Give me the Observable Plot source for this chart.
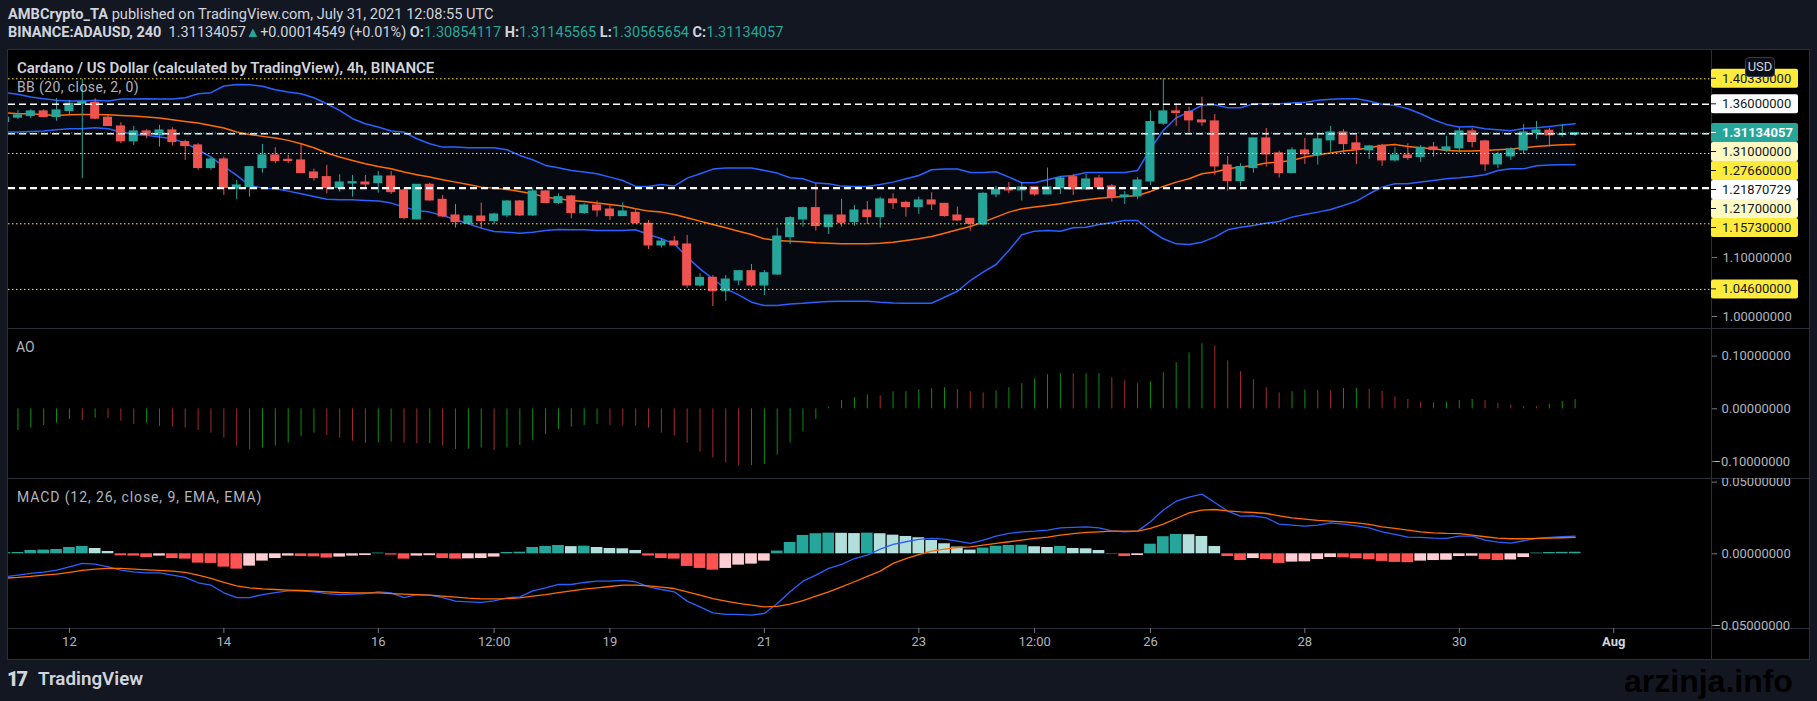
<!DOCTYPE html>
<html>
<head>
<meta charset="utf-8">
<script src="https://cdn.jsdelivr.net/npm/d3@7"></script>
<script src="https://cdn.jsdelivr.net/npm/@observablehq/plot@0.6"></script>
<style>
html,body{margin:0;padding:0;background:#131722;}
body{width:1817px;height:701px;overflow:hidden;position:relative;font-family:Roboto,"Noto Sans",sans-serif;color:#d1d4dc;}
.abs{position:absolute;white-space:nowrap;}
#frame{left:7px;top:49px;width:1803px;height:611px;background:#000;border:1px solid #2a2e39;box-sizing:border-box;}
.hsep{position:absolute;left:8px;width:1801px;height:1px;background:#2a2e39;}
.vsep{position:absolute;left:1711px;top:49px;width:1px;height:610px;background:#2a2e39;}
.panel{position:absolute;left:0;}
.teal{color:#26a69a;}
</style>
</head>
<body>
<div class="abs" id="frame"></div>
<div class="hsep" style="top:328px"></div>
<div class="hsep" style="top:478px"></div>
<div class="hsep" style="top:628px"></div>
<div class="vsep"></div>
<div class="panel" id="p1" style="top:50px"></div>
<div class="panel" id="p2" style="top:328px"></div>
<div class="panel" id="p3" style="top:478px"></div>

<div class="abs" style="left:8px;top:6px;font-size:14.6px;line-height:16px;"><b>AMBCrypto_TA</b> published on TradingView.com, July 31, 2021 12:08:55 UTC</div>
<div class="abs" style="left:8px;top:25px;font-size:14.5px;line-height:16px;"><b>BINANCE:ADAUSD, 240</b>&nbsp; 1.31134057<span class="teal">▲</span>+0.00014549 (+0.01%) <b>O:</b><span class="teal">1.30854117</span> <b>H:</b><span class="teal">1.31145565</span> <b>L:</b><span class="teal">1.30565654</span> <b>C:</b><span class="teal">1.31134057</span></div>
<div class="abs" style="left:17px;top:60px;font-size:15px;line-height:16px;font-weight:600;">Cardano / US Dollar (calculated by TradingView), 4h, BINANCE</div>
<div class="abs" style="left:17px;top:79px;font-size:14px;line-height:16px;letter-spacing:0.4px;color:#b2b5be;">BB (20, close, 2, 0)</div>
<div class="abs" style="left:16px;top:339px;font-size:14px;line-height:16px;color:#b2b5be;">AO</div>
<div class="abs" style="left:17px;top:489px;font-size:14px;line-height:16px;letter-spacing:0.9px;color:#b2b5be;">MACD (12, 26, close, 9, EMA, EMA)</div>
<div class="abs" style="left:1745px;top:57px;width:30px;height:20px;box-sizing:border-box;border:1px solid #363a45;border-radius:4px;background:#0c0e15;font-size:13px;line-height:18px;text-align:center;color:#d1d4dc;">USD</div>
<div class="abs" style="left:7px;top:668px;font-size:20px;line-height:22px;font-weight:900;letter-spacing:-2px;color:#d1d4dc;">17</div>
<div class="abs" style="left:38px;top:668px;font-size:18.8px;line-height:22px;font-weight:600;color:#d1d4dc;">TradingView</div>
<div class="abs" style="left:1624px;top:664px;font-size:32px;line-height:34px;font-weight:bold;color:#000;font-family:'Liberation Sans',Roboto,sans-serif;">arzinja.info</div>

<script>
// ---------- DATA (4h bars, first bar Jul 11 2021 04:00 UTC) ----------
const firstBarUTC = Date.UTC(2021, 6, 11, 4);
const barHours = 4;

const open = [1.3299,1.3373,1.3401,1.3480,1.3384,1.3486,1.3610,1.3627,1.3373,1.3225,1.2971,
1.3140,1.3073,1.3157,1.2959,1.2903,1.2518,1.2665,1.2167,1.2195,1.2518,
1.2733,1.2659,1.2648,1.2444,1.2365,1.2178,1.2257,1.2274,1.2263,1.2376,
1.2139,1.1646,1.2235,1.1980,1.1714,1.1573,1.1697,1.1618,1.1714,1.1952,
1.1714,1.2122,1.1924,1.2037,1.1754,1.1884,1.1816,1.1703,1.1759,1.1573,
1.1205,1.1273,1.1222,1.0526,1.0656,1.0429,1.0610,1.0769,1.0526,1.0712,
1.1346,1.1646,1.1839,1.1516,1.1714,1.1601,1.1799,1.1686,1.1986,1.1929,
1.1856,1.1969,1.1912,1.1714,1.1657,1.1561,1.2071,1.2178,1.2139,1.2190,
1.2071,1.2173,1.2365,1.2156,1.2342,1.2207,1.2025,1.2037,1.2291,1.3271,
1.3480,1.3469,1.3327,1.3310,1.2563,1.2297,1.2518,1.3022,1.2767,1.2433,
1.2818,1.2733,1.2988,1.3123,1.2937,1.2818,1.2897,1.2648,1.2733,1.2705,
1.2869,1.2818,1.2852,1.3140,1.2971,1.2580,1.2716,1.2818,1.3112,1.3152,
1.3078,1.30854117];

const high = [1.3395,1.3497,1.3508,1.3508,1.3695,1.3667,1.4023,1.3695,1.3412,1.3288,1.3225,
1.3169,1.3242,1.3203,1.2988,1.2931,1.2705,1.2705,1.2308,1.2546,1.2920,
1.2863,1.2733,1.2920,1.2501,1.2563,1.2405,1.2393,1.2393,1.2461,1.2461,
1.2167,1.2235,1.2263,1.2054,1.1901,1.1714,1.1924,1.1754,1.1969,1.1969,
1.2184,1.2139,1.2082,1.2054,1.1913,1.1958,1.1884,1.1929,1.1816,1.1629,
1.1318,1.1357,1.1375,1.0724,1.0695,1.0695,1.0780,1.0882,1.0780,1.1499,
1.1697,1.1856,1.2252,1.1714,1.1986,1.1884,1.1952,1.2025,1.2082,1.1958,
1.2025,1.2099,1.1912,1.1856,1.1657,1.2099,1.2207,1.2274,1.2274,1.2190,
1.2518,1.2376,1.2410,1.2410,1.2393,1.2240,1.2122,1.2354,1.3486,1.4035,
1.3610,1.3554,1.3723,1.3429,1.2716,1.2591,1.3022,1.3191,1.2806,1.2863,
1.3022,1.3112,1.3225,1.3169,1.3073,1.2903,1.2920,1.2863,1.2931,1.2903,
1.2954,1.3056,1.3197,1.3186,1.2988,1.2790,1.2863,1.3259,1.3310,1.3191,
1.3259,1.31145565];

const low = [1.3271,1.3339,1.3356,1.3373,1.3316,1.3412,1.2337,1.3339,1.3225,1.2931,1.2903,
1.3016,1.2874,1.2891,1.2648,1.2478,1.2478,1.2054,1.1980,1.2025,1.2433,
1.2591,1.2591,1.2422,1.2297,1.2082,1.2110,1.2025,1.2167,1.2093,1.2071,
1.1641,1.1641,1.1958,1.1675,1.1499,1.1573,1.1488,1.1556,1.1675,1.1697,
1.1697,1.1913,1.1901,1.1658,1.1731,1.1686,1.1629,1.1697,1.1573,1.1137,
1.1159,1.1205,1.0480,1.0497,1.0169,1.0259,1.0525,1.0497,1.0356,1.0695,
1.1222,1.1516,1.1448,1.1391,1.1516,1.1533,1.1561,1.1499,1.1816,1.1686,
1.1731,1.1799,1.1686,1.1618,1.1448,1.1533,1.2014,1.2082,1.1958,1.2042,
1.2071,1.2071,1.2054,1.2139,1.2156,1.1941,1.1901,1.1980,1.2223,1.3242,
1.3225,1.3112,1.3225,1.2393,1.2127,1.2207,1.2433,1.2535,1.2348,1.2422,
1.2580,1.2569,1.2784,1.2750,1.2580,1.2665,1.2546,1.2620,1.2648,1.2614,
1.2705,1.2784,1.2773,1.2863,1.2461,1.2507,1.2648,1.2750,1.3005,1.2874,
1.3044,1.30565654];

const close = [1.3372,1.3412,1.3480,1.3384,1.3497,1.3610,1.3638,1.3356,1.3231,1.2971,1.3140,
1.3084,1.3157,1.2959,1.2891,1.2518,1.2665,1.2178,1.2224,1.2535,1.2733,
1.2637,1.2637,1.2433,1.2348,1.2178,1.2274,1.2280,1.2240,1.2376,1.2110,
1.1669,1.2235,1.1969,1.1697,1.1601,1.1697,1.1618,1.1731,1.1952,1.1714,
1.2122,1.1924,1.2025,1.1754,1.1884,1.1799,1.1703,1.1782,1.1584,1.1205,
1.1273,1.1205,1.0526,1.0656,1.0429,1.0627,1.0769,1.0526,1.0735,1.1357,
1.1669,1.1839,1.1533,1.1714,1.1590,1.1799,1.1686,1.1986,1.1924,1.1856,
1.1969,1.1901,1.1703,1.1629,1.1573,1.2082,1.2150,1.2139,1.2190,1.2071,
1.2190,1.2342,1.2156,1.2325,1.2190,1.2025,1.2054,1.2308,1.3299,1.3480,
1.3452,1.3327,1.3293,1.2546,1.2297,1.2535,1.3022,1.2750,1.2433,1.2818,
1.2750,1.3005,1.3123,1.2925,1.2829,1.2886,1.2648,1.2733,1.2688,1.2863,
1.2824,1.2869,1.3140,1.2959,1.2580,1.2750,1.2835,1.3123,1.3157,1.3073,
1.3090,1.31134057];

const bbUpper = [1.3797,1.3769,1.3723,1.3695,1.3667,1.3655,1.3655,1.3667,1.3655,1.3689,1.3689,
1.3695,1.3689,1.3689,1.3712,1.3780,1.3797,1.3910,1.3938,1.3933,1.3905,
1.3848,1.3808,1.3780,1.3712,1.3610,1.3497,1.3356,1.3271,1.3214,1.3146,
1.3129,1.3016,1.2931,1.2874,1.2874,1.2863,1.2863,1.2863,1.2829,1.2733,
1.2659,1.2563,1.2523,1.2478,1.2450,1.2422,1.2365,1.2308,1.2207,1.2207,
1.2240,1.2212,1.2348,1.2422,1.2501,1.2518,1.2518,1.2518,1.2478,1.2433,
1.2354,1.2337,1.2263,1.2252,1.2212,1.2207,1.2207,1.2240,1.2280,1.2337,
1.2393,1.2490,1.2501,1.2501,1.2444,1.2444,1.2456,1.2365,1.2269,1.2269,
1.2320,1.2376,1.2393,1.2444,1.2444,1.2444,1.2444,1.2478,1.2846,1.3157,
1.3372,1.3469,1.3582,1.3593,1.3542,1.3542,1.3610,1.3610,1.3610,1.3622,
1.3633,1.3667,1.3684,1.3695,1.3695,1.3655,1.3599,1.3582,1.3525,1.3440,
1.3339,1.3259,1.3214,1.3225,1.3186,1.3169,1.3152,1.3191,1.3203,1.3225,
1.3248,1.3271];

const bbBasis = [1.3457,1.3440,1.3440,1.3423,1.3412,1.3423,1.3429,1.3429,1.3423,1.3412,1.3401,
1.3384,1.3367,1.3339,1.3310,1.3282,1.3242,1.3197,1.3129,1.3089,1.3056,
1.3027,1.2988,1.2931,1.2863,1.2773,1.2705,1.2648,1.2591,1.2546,1.2507,
1.2450,1.2405,1.2365,1.2320,1.2280,1.2240,1.2195,1.2178,1.2156,1.2122,
1.2082,1.2025,1.1997,1.1969,1.1952,1.1924,1.1901,1.1873,1.1827,1.1788,
1.1771,1.1731,1.1674,1.1618,1.1561,1.1505,1.1448,1.1391,1.1318,1.1290,
1.1278,1.1267,1.1250,1.1244,1.1233,1.1233,1.1233,1.1244,1.1261,1.1290,
1.1318,1.1358,1.1414,1.1471,1.1527,1.1601,1.1686,1.1771,1.1827,1.1856,
1.1884,1.1912,1.1952,1.1980,1.2008,1.2025,1.2037,1.2054,1.2122,1.2207,
1.2280,1.2337,1.2422,1.2450,1.2507,1.2535,1.2563,1.2603,1.2620,1.2648,
1.2705,1.2744,1.2773,1.2806,1.2829,1.2863,1.2903,1.2920,1.2886,1.2863,
1.2846,1.2818,1.2806,1.2806,1.2818,1.2829,1.2840,1.2863,1.2886,1.2903,
1.2914,1.2920];

const bbLower = [1.3129,1.3129,1.3140,1.3146,1.3169,1.3186,1.3186,1.3203,1.3186,1.3129,1.3089,
1.3073,1.3044,1.3016,1.2942,1.2829,1.2705,1.2546,1.2393,1.2224,1.2178,
1.2167,1.2127,1.2082,1.2037,1.1991,1.1980,1.1980,1.1969,1.1958,1.1924,
1.1856,1.1799,1.1771,1.1714,1.1641,1.1573,1.1499,1.1442,1.1431,1.1414,
1.1431,1.1459,1.1476,1.1471,1.1471,1.1459,1.1459,1.1459,1.1471,1.1391,
1.1318,1.1233,1.1007,1.0808,1.0639,1.0469,1.0367,1.0243,1.0186,1.0186,
1.0214,1.0226,1.0243,1.0254,1.0260,1.0260,1.0260,1.0243,1.0231,1.0226,
1.0226,1.0226,1.0327,1.0429,1.0610,1.0752,1.0882,1.1120,1.1386,1.1448,
1.1459,1.1448,1.1505,1.1516,1.1561,1.1590,1.1629,1.1629,1.1459,1.1318,
1.1233,1.1222,1.1261,1.1346,1.1471,1.1516,1.1544,1.1584,1.1612,1.1686,
1.1731,1.1771,1.1816,1.1884,1.1958,1.2082,1.2195,1.2252,1.2252,1.2280,
1.2308,1.2337,1.2354,1.2376,1.2405,1.2478,1.2507,1.2507,1.2557,1.2569,
1.2574,1.2574];

const aoValues = [-0.0450,-0.0411,-0.0367,-0.0316,-0.0272,-0.0202,-0.0221,-0.0177,-0.0185,-0.0234,-0.0297,
-0.0272,-0.0335,-0.0348,-0.0367,-0.0411,-0.0461,-0.0556,-0.0708,-0.0771,-0.0746,
-0.0708,-0.0651,-0.0525,-0.0461,-0.0506,-0.0556,-0.0613,-0.0660,-0.0648,-0.0632,
-0.0651,-0.0664,-0.0658,-0.0708,-0.0771,-0.0765,-0.0746,-0.0790,-0.0746,-0.0695,
-0.0600,-0.0487,-0.0392,-0.0348,-0.0316,-0.0297,-0.0316,-0.0320,-0.0325,-0.0367,
-0.0461,-0.0518,-0.0651,-0.0822,-0.0935,-0.1030,-0.1087,-0.1080,-0.1055,-0.0878,
-0.0651,-0.0442,-0.0202,0.0032,0.0158,0.0215,0.0266,0.0247,0.0323,0.0325,
0.0361,0.0380,0.0399,0.0361,0.0323,0.0304,0.0342,0.0399,0.0475,0.0570,
0.0646,0.0665,0.0662,0.0665,0.0668,0.0589,0.0532,0.0475,0.0513,0.0684,
0.0874,0.1063,0.1234,0.1196,0.0912,0.0703,0.0551,0.0399,0.0304,0.0323,
0.0354,0.0350,0.0345,0.0386,0.0390,0.0367,0.0329,0.0228,0.0177,0.0126,
0.0118,0.0122,0.0158,0.0177,0.0158,0.0101,0.0070,0.0044,0.0040,0.0088,
0.0139,0.0177];

const macdLine = [-0.0160,-0.0149,-0.0137,-0.0128,-0.0114,-0.0091,-0.0067,-0.0072,-0.0091,-0.0114,-0.0126,
-0.0133,-0.0133,-0.0149,-0.0165,-0.0202,-0.0219,-0.0272,-0.0305,-0.0305,-0.0284,
-0.0270,-0.0258,-0.0258,-0.0265,-0.0277,-0.0284,-0.0281,-0.0277,-0.0265,-0.0272,
-0.0305,-0.0284,-0.0288,-0.0305,-0.0330,-0.0335,-0.0339,-0.0328,-0.0307,-0.0300,
-0.0258,-0.0237,-0.0214,-0.0214,-0.0200,-0.0191,-0.0191,-0.0186,-0.0195,-0.0230,
-0.0249,-0.0265,-0.0330,-0.0370,-0.0412,-0.0423,-0.0423,-0.0428,-0.0416,-0.0346,
-0.0265,-0.0191,-0.0149,-0.0102,-0.0074,-0.0033,-0.0009,0.0033,0.0065,0.0084,
0.0100,0.0107,0.0102,0.0088,0.0072,0.0095,0.0123,0.0142,0.0153,0.0158,
0.0165,0.0181,0.0184,0.0188,0.0181,0.0160,0.0153,0.0158,0.0223,0.0305,
0.0367,0.0395,0.0416,0.0358,0.0298,0.0263,0.0265,0.0251,0.0207,0.0200,
0.0193,0.0200,0.0216,0.0207,0.0195,0.0181,0.0153,0.0135,0.0116,0.0114,
0.0109,0.0107,0.0123,0.0123,0.0095,0.0081,0.0074,0.0091,0.0107,0.0114,
0.0119,0.0123];

const signalLine = [-0.0170,-0.0165,-0.0158,-0.0149,-0.0142,-0.0130,-0.0116,-0.0107,-0.0102,-0.0102,-0.0107,
-0.0112,-0.0116,-0.0121,-0.0130,-0.0149,-0.0172,-0.0200,-0.0223,-0.0237,-0.0244,
-0.0249,-0.0253,-0.0256,-0.0260,-0.0265,-0.0270,-0.0272,-0.0272,-0.0272,-0.0277,
-0.0281,-0.0284,-0.0288,-0.0295,-0.0302,-0.0309,-0.0314,-0.0314,-0.0312,-0.0307,
-0.0295,-0.0284,-0.0270,-0.0258,-0.0246,-0.0237,-0.0228,-0.0219,-0.0219,-0.0223,
-0.0233,-0.0242,-0.0265,-0.0288,-0.0312,-0.0330,-0.0346,-0.0358,-0.0370,-0.0367,
-0.0351,-0.0326,-0.0295,-0.0265,-0.0230,-0.0195,-0.0158,-0.0121,-0.0067,-0.0033,
-0.0005,0.0019,0.0033,0.0044,0.0049,0.0060,0.0072,0.0084,0.0095,0.0107,
0.0116,0.0130,0.0140,0.0149,0.0153,0.0158,0.0158,0.0158,0.0177,0.0207,
0.0246,0.0286,0.0305,0.0309,0.0300,0.0293,0.0288,0.0281,0.0265,0.0251,
0.0242,0.0233,0.0228,0.0223,0.0216,0.0205,0.0188,0.0177,0.0165,0.0153,
0.0146,0.0142,0.0140,0.0130,0.0119,0.0109,0.0105,0.0105,0.0107,0.0109,
0.0112,0.0114];

const macdHist = [0.0008,0.0009,0.0023,0.0026,0.0030,0.0044,0.0051,0.0037,0.0016,-0.0014,-0.0016,
-0.0026,-0.0016,-0.0033,-0.0037,-0.0065,-0.0067,-0.0093,-0.0107,-0.0086,-0.0051,
-0.0033,-0.0016,-0.0019,-0.0021,-0.0030,-0.0023,-0.0016,-0.0012,0.0005,-0.0009,
-0.0037,-0.0016,-0.0013,-0.0033,-0.0037,-0.0035,-0.0033,-0.0023,0.0009,0.0011,
0.0044,0.0051,0.0058,0.0050,0.0053,0.0044,0.0037,0.0035,0.0023,-0.0016,
-0.0033,-0.0037,-0.0088,-0.0102,-0.0114,-0.0102,-0.0079,-0.0072,-0.0051,0.0019,
0.0079,0.0128,0.0140,0.0144,0.0143,0.0141,0.0144,0.0140,0.0130,0.0121,
0.0112,0.0093,0.0070,0.0047,0.0026,0.0040,0.0053,0.0058,0.0060,0.0049,
0.0044,0.0051,0.0037,0.0035,0.0023,0.0002,-0.0019,-0.0012,0.0067,0.0119,
0.0135,0.0133,0.0121,0.0051,-0.0019,-0.0047,-0.0033,-0.0040,-0.0067,-0.0058,
-0.0056,-0.0040,-0.0026,-0.0028,-0.0035,-0.0042,-0.0053,-0.0060,-0.0062,-0.0051,
-0.0047,-0.0045,-0.0019,-0.0017,-0.0040,-0.0047,-0.0043,-0.0026,0.0005,0.0009,
0.0010,0.0011];

// horizontal levels drawn on the chart
const levelValues = [1.4033, 1.36, 1.31134057, 1.31, 1.2766, 1.21870729, 1.217, 1.1573, 1.046];
const levelKinds  = ["yellow","white","last","light","yellow","white","light","yellow","yellow"];

// axis ticks
const priceTicks = [1.0, 1.1];
const aoTicks = [0.1, 0, -0.1];
const macdTicks = [0.05, 0, -0.05];
const xTickDates = [Date.UTC(2021,6,12), Date.UTC(2021,6,14), Date.UTC(2021,6,16), Date.UTC(2021,6,17,12),
  Date.UTC(2021,6,19), Date.UTC(2021,6,21), Date.UTC(2021,6,23), Date.UTC(2021,6,24,12),
  Date.UTC(2021,6,26), Date.UTC(2021,6,28), Date.UTC(2021,6,30), Date.UTC(2021,7,1)];
const xTickLabels = ["12","14","16","12:00","19","21","23","12:00","26","28","30","Aug"];
const xDomain = [new Date(Date.UTC(2021,6,11,5,4)), new Date(Date.UTC(2021,7,2,6,23))];

// ---------- BUILD ----------
const H = barHours * 3600 * 1000;
const UP = "#26a69a", DOWN = "#ef5350";
const fmt8 = d3.format(".8f");
const bars = open.map((o, i) => ({
  t: new Date(firstBarUTC + i * H), open: o, high: high[i], low: low[i], close: close[i],
  upper: bbUpper[i], basis: bbBasis[i], lower: bbLower[i],
  ao: aoValues[i], aoCol: (i === 0 || aoValues[i] > aoValues[i-1]) ? "#0a8f0a" : "#a52a2a",
  macd: macdLine[i], signal: signalLine[i], hist: macdHist[i],
  histCol: macdHist[i] >= 0
    ? ((i === 0 || macdHist[i] > macdHist[i-1]) ? "#26a69a" : "#b2dfdb")
    : ((i === 0 || macdHist[i] < macdHist[i-1]) ? "#ff5252" : "#ffcdd2"),
  col: close[i] >= o ? UP : DOWN
}));
const levels = levelValues.map((v, i) => ({value: v, kind: levelKinds[i]}));
const xTicks = xTickDates.map((d, i) => ({date: new Date(d), label: xTickLabels[i]}));

const W = 1817;
const styleBase = {background: "transparent", fontFamily: "Roboto, sans-serif", fontSize: "13px", color: "#b2b5be", overflow: "hidden"};
const common = {width: W, marginLeft: 8, marginRight: 106, marginTop: 0, color: {type: "identity"}, style: styleBase};

const labelStyle = {
  yellow: {bg: "#ffeb3b", fg: "#131722", bold: false},
  white:  {bg: "#ffffff", fg: "#131722", bold: false},
  light:  {bg: "#fff9c4", fg: "#131722", bold: false},
  last:   {bg: "#26a69a", fg: "#ffffff", bold: true}
};

function priceAxisLabels(index, scales, values, dims) {
  const g = d3.create("svg:g").attr("font-family", "Roboto, sans-serif").attr("font-size", 13).attr("text-anchor", "start");
  const x0 = dims.width - dims.marginRight;
  const items = levels.slice().sort((a, b) => b.value - a.value);
  let prev = -Infinity;
  for (const it of items) {
    const y = Math.max(scales.y(it.value), prev + 19);
    prev = y;
    const st = labelStyle[it.kind];
    g.append("rect").attr("x", x0).attr("y", y - 9.5).attr("width", 87).attr("height", 19).attr("rx", 2).attr("fill", st.bg);
    g.append("line").attr("x1", x0).attr("x2", x0 + 5).attr("y1", y).attr("y2", y).attr("stroke", st.fg).attr("stroke-width", 1);
    g.append("text").attr("x", x0 + 11).attr("y", y).attr("dy", "0.35em").attr("fill", st.fg)
      .attr("text-anchor", "start")
      .attr("font-weight", st.bold ? "bold" : "normal").text(fmt8(it.value));
  }
  return g.node();
}

const candleMarks = [
  Plot.ruleX(bars, {x: "t", y1: "low", y2: "high", stroke: "col", strokeWidth: 1, clip: true}),
  Plot.rect(bars, {x1: d => new Date(+d.t - H/2), x2: d => new Date(+d.t + H/2), y1: "open", y2: "close",
    fill: "col", insetLeft: 1.9, insetRight: 1.9, insetTop: -0.5, insetBottom: -0.5, clip: true})
];

const pricePlot = Plot.plot({
  ...common, height: 278, marginBottom: 0,
  x: {type: "utc", domain: xDomain, axis: null},
  y: {domain: [0.97964, 1.45130]},
  marks: [
    Plot.areaY(bars, {x: "t", y1: "lower", y2: "upper", fill: "#060a10", clip: true}),
    Plot.line(bars, {x: "t", y: "upper", stroke: "#2962ff", strokeWidth: 1.5, clip: true}),
    Plot.line(bars, {x: "t", y: "lower", stroke: "#2962ff", strokeWidth: 1.5, clip: true}),
    Plot.line(bars, {x: "t", y: "basis", stroke: "#ff6d00", strokeWidth: 1.5, clip: true}),
    ...candleMarks,
    Plot.ruleY(levels.filter(d => d.kind === "yellow"), {y: "value", stroke: "#ffeb3b", strokeWidth: 1, strokeDasharray: "1.5,2.5"}),
    Plot.ruleY(levels.filter(d => d.kind === "white" || d.kind === "light"), {y: "value", stroke: "#ffffff", strokeWidth: 1.4, strokeDasharray: "7,4"}),
    Plot.ruleY(levels.filter(d => d.kind === "last"), {y: "value", stroke: "#26a69a", strokeWidth: 1, strokeDasharray: "1,2"}),
    Plot.axisY({anchor: "right", ticks: priceTicks, tickFormat: fmt8, tickSize: 5, tickPadding: 6, label: null, fontSize: 13, stroke: "#787b86", fill: "#b2b5be"}),
    priceAxisLabels
  ]
});
document.getElementById("p1").append(pricePlot);

const aoPlot = Plot.plot({
  ...common, height: 150, marginBottom: 0,
  x: {type: "utc", domain: xDomain, axis: null},
  y: {domain: [-0.13226, 0.15237]},
  marks: [
    Plot.ruleX(bars, {x: "t", y1: 0, y2: "ao", stroke: "aoCol", strokeWidth: 1, clip: true}),
    Plot.axisY({anchor: "right", ticks: aoTicks.filter(v => v >= 0), tickFormat: fmt8, tickSize: 5, tickPadding: 5, label: null, fontSize: 13, stroke: "#787b86", fill: "#b2b5be"}),
    Plot.axisY({anchor: "right", ticks: aoTicks.filter(v => v < 0), tickFormat: fmt8, tickSize: 5, tickPadding: -3, label: null, fontSize: 13, stroke: "#787b86", fill: "#b2b5be"})
  ]
});
document.getElementById("p2").append(aoPlot);

const macdPlot = Plot.plot({
  ...common, height: 181, marginBottom: 31,
  x: {type: "utc", domain: xDomain},
  y: {domain: [-0.05209, 0.05251]},
  marks: [
    Plot.rect(bars, {x1: d => new Date(+d.t - H/2), x2: d => new Date(+d.t + H/2), y1: 0, y2: "hist",
      fill: "histCol", insetLeft: 0.6, insetRight: 0.6, clip: true}),
    Plot.line(bars, {x: "t", y: "macd", stroke: "#2962ff", strokeWidth: 1.3, clip: true}),
    Plot.line(bars, {x: "t", y: "signal", stroke: "#ff6d00", strokeWidth: 1.3, clip: true}),
    Plot.axisY({anchor: "right", ticks: macdTicks.filter(v => v >= 0), tickFormat: fmt8, tickSize: 5, tickPadding: 5, label: null, fontSize: 13, stroke: "#787b86", fill: "#b2b5be"}),
    Plot.axisY({anchor: "right", ticks: macdTicks.filter(v => v < 0), tickFormat: fmt8, tickSize: 5, tickPadding: -3, label: null, fontSize: 13, stroke: "#787b86", fill: "#b2b5be"}),
    Plot.axisX({anchor: "bottom", ticks: xTicks.map(d => d.date), tickFormat: () => "", tickSize: 5, label: null, stroke: "#787b86"}),
    Plot.text(xTicks.filter(d => d.label !== "Aug"), {x: "date", text: "label", frameAnchor: "bottom", dy: 17, fill: "#b2b5be", fontSize: 13}),
    Plot.text(xTicks.filter(d => d.label === "Aug"), {x: "date", text: "label", frameAnchor: "bottom", dy: 17, fill: "#d1d4dc", fontSize: 13, fontWeight: "bold"})
  ]
});
document.getElementById("p3").append(macdPlot);
</script>
</body>
</html>
